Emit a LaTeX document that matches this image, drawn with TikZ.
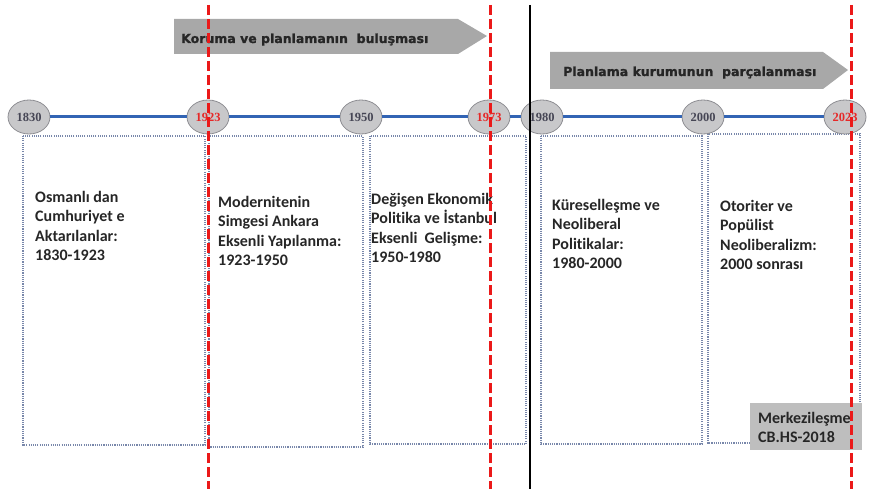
\documentclass[tikz,border=0pt]{standalone}
\usepackage{fontspec}
\setmainfont{Carlito}[Ligatures={NoCommon}]
\newfontfamily\arrowfont{DejaVu Sans Bold}[FakeBold=1.2]
\newfontfamily\yearfont{Liberation Serif}
\usetikzlibrary{shapes.geometric}
\definecolor{arrowgray}{RGB}{168,168,168}
\definecolor{circfill}{RGB}{200,200,202}
\definecolor{circdraw}{RGB}{140,140,145}
\definecolor{tlblue}{RGB}{50,100,180}
\definecolor{dotblue}{RGB}{120,135,170}
\definecolor{yeargray}{RGB}{70,70,85}
\definecolor{yearred}{RGB}{230,40,40}
\definecolor{dashred}{RGB}{235,25,25}
\definecolor{labelgray}{RGB}{190,190,190}
\tikzset{
  banner/.style={fill=arrowgray, draw=none},
  bannertext/.style={anchor=base west, inner sep=0pt, font=\arrowfont\fontsize{12.5}{14}\selectfont, text=black!85},
  yearnode/.style={ellipse, fill=circfill, draw=circdraw, line width=0.8pt, minimum width=42pt, minimum height=34pt, inner sep=0pt, font=\yearfont\bfseries\fontsize{12.5}{14}\selectfont, text=yeargray},
  redyear/.style={text=yearred},
  timeline/.style={draw=tlblue, line width=3pt},
  periodbox/.style={draw=dotblue, line width=1.5pt, dash pattern=on 1.1pt off 1.1pt},
  periodtext/.style={anchor=north west, inner sep=0pt, align=left, font=\bfseries\fontsize{16}{19.4}\selectfont, text=black!85},
  reddash/.style={draw=dashred, line width=3pt, dash pattern=on 10pt off 4pt},
  blackline/.style={draw=black, line width=2.5pt},
  graylabel/.style={fill=labelgray, draw=none}
}
\begin{document}
\begin{tikzpicture}[x=1pt,y=-1pt]
\useasboundingbox (0,0) rectangle (869,489);
% banners
\fill[banner] (174,19) -- (458,19) -- (487,36) -- (458,54) -- (174,54) -- cycle;
\node[bannertext] (t1) at (181,43) {Koruma ve planlamanın\ \ buluşması};
\fill[banner] (550,52) -- (823,52) -- (848,70) -- (823,89) -- (550,89) -- cycle;
\node[bannertext] (t2) at (563,76) {Planlama kurumunun\ \ parçalanması};
% period boxes
\draw[periodbox] (23,136) rectangle (205,445);
\draw[periodbox] (209,136) rectangle (363,447);
\draw[periodbox] (370,136) rectangle (526,444);
\draw[periodbox] (541,136) rectangle (702,444);
\draw[periodbox] (708,134) rectangle (860,443);
% period texts
\node[periodtext] (p1) at (35,191) {Osmanlı dan\\Cumhuriyet e\\Aktarılanlar:\\1830-1923};
\node[periodtext] (p2) at (218,196) {Modernitenin\\Simgesi Ankara\\Eksenli Yapılanma:\\1923-1950};
\node[periodtext] (p3) at (371,193) {Değişen Ekonomik\\Politika ve İstanbul\\Eksenli\ \ Gelişme:\\1950-1980};
\node[periodtext] (p4) at (552,199) {Küreselleşme ve\\Neoliberal\\Politikalar:\\1980-2000};
\node[periodtext] (p5) at (720,200) {Otoriter ve\\Popülist\\Neoliberalizm:\\2000 sonrası};
% years
\node[yearnode] (y1830) at (29,117) {1830};
\node[yearnode,redyear] (y1923) at (208,117) {1923};
\node[yearnode] (y1950) at (361,117) {1950};
\node[yearnode,redyear] (y1973) at (489,117) {1973};
\node[yearnode] (y1980) at (542,117) {1980};
\node[yearnode] (y2000) at (703,117) {2000};
\node[yearnode,redyear] (y2023) at (845,117) {2023};
\draw[timeline] (y1830) -- (y1923) -- (y1950) -- (y1973) -- (y1980) -- (y2000) -- (y2023);
% label
\fill[graylabel] (750,403) rectangle (862,450);
\node[anchor=north west, inner sep=0pt, align=left, font=\bfseries\fontsize{16}{19.4}\selectfont, text=black!85] (lab) at (758,412) {Merkezileşme\\CB.HS-2018};
% vertical lines
\coordinate (r1t) at (208,5); \coordinate (r1b) at (208,489);
\coordinate (r2t) at (490,5); \coordinate (r2b) at (490,489);
\coordinate (r3t) at (851,5); \coordinate (r3b) at (851,489);
\coordinate (bt) at (530,5); \coordinate (bb) at (530,489);
\draw[reddash] (r1t) -- (r1b);
\draw[reddash] (r2t) -- (r2b);
\draw[reddash] (r3t) -- (r3b);
\draw[blackline] (bt) -- (bb);
\end{tikzpicture}
\end{document}
